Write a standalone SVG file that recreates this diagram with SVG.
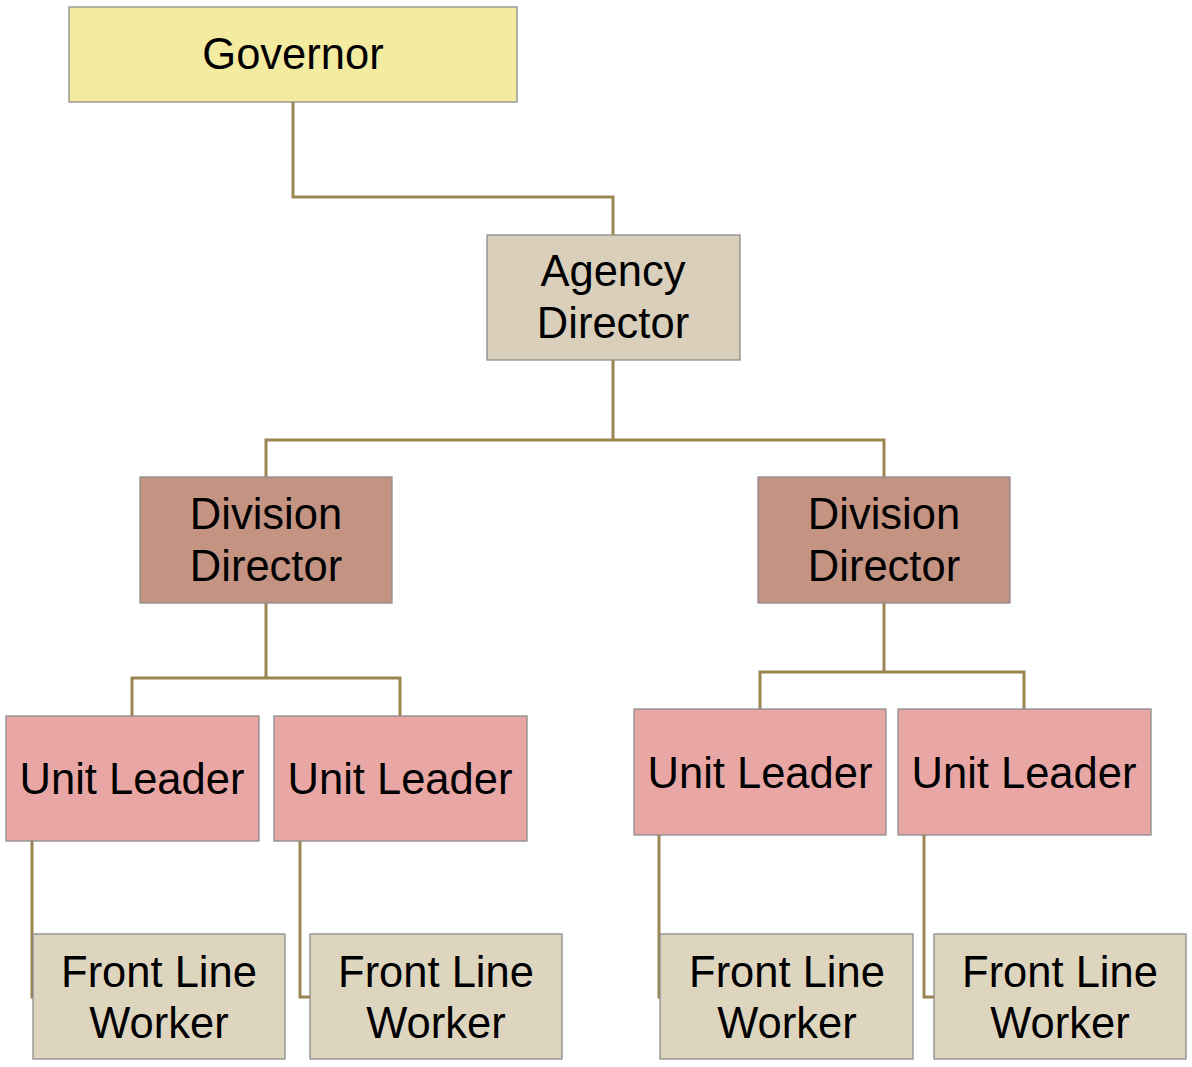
<svg xmlns="http://www.w3.org/2000/svg" width="1192" height="1067" viewBox="0 0 1192 1067">
<style>
  .box{stroke:#8c8c8c;stroke-width:1.3}
  .gov{fill:#f3eb9f}
  .agy{fill:#d9cfba}
  .div{fill:#c49382}
  .unit{fill:#e8a7a5}
  .wrk{fill:#ded5bf}
  text{font-family:"Liberation Sans",Arial,sans-serif;font-size:43.5px;fill:#000;text-anchor:middle}
  .conn path{fill:none;stroke:#9b8552;stroke-width:3}
</style>
<rect width="1192" height="1067" fill="#ffffff"/>
<g class="conn" id="connectors">
  <path d="M293 102 V197 H613 V235"/>
  <path d="M613 360 V440 H266 V477 M613 440 H884 V477"/>
  <path d="M266 603 V678 H132 V716 M266 678 H400 V716"/>
  <path d="M884 603 V672 H760 V709 M884 672 H1024 V709"/>
  <path d="M32 841 V997 H33"/>
  <path d="M300 841 V997 H310"/>
  <path d="M659 835 V997 H660"/>
  <path d="M924 835 V997 H934"/>
</g>
<g id="governor"><rect class="box gov" x="69" y="7" width="448" height="95"/><text x="293" y="69">Governor</text></g>
<g id="agency-director"><rect class="box agy" x="487" y="235" width="253" height="125"/><text x="613" y="286">Agency</text><text x="613" y="338">Director</text></g>
<g id="division-director-1"><rect class="box div" x="140" y="477" width="252" height="126"/><text x="266" y="529">Division</text><text x="266" y="581">Director</text></g>
<g id="division-director-2"><rect class="box div" x="758" y="477" width="252" height="126"/><text x="884" y="529">Division</text><text x="884" y="581">Director</text></g>
<g id="unit-leader-1"><rect class="box unit" x="6" y="716" width="253" height="125"/><text x="132" y="794">Unit Leader</text></g>
<g id="unit-leader-2"><rect class="box unit" x="274" y="716" width="253" height="125"/><text x="400" y="794">Unit Leader</text></g>
<g id="unit-leader-3"><rect class="box unit" x="634" y="709" width="252" height="126"/><text x="760" y="788">Unit Leader</text></g>
<g id="unit-leader-4"><rect class="box unit" x="898" y="709" width="253" height="126"/><text x="1024" y="788">Unit Leader</text></g>
<g id="front-line-worker-1"><rect class="box wrk" x="33" y="934" width="252" height="125"/><text x="159" y="987">Front Line</text><text x="159" y="1038">Worker</text></g>
<g id="front-line-worker-2"><rect class="box wrk" x="310" y="934" width="252" height="125"/><text x="436" y="987">Front Line</text><text x="436" y="1038">Worker</text></g>
<g id="front-line-worker-3"><rect class="box wrk" x="660" y="934" width="253" height="125"/><text x="787" y="987">Front Line</text><text x="787" y="1038">Worker</text></g>
<g id="front-line-worker-4"><rect class="box wrk" x="934" y="934" width="252" height="125"/><text x="1060" y="987">Front Line</text><text x="1060" y="1038">Worker</text></g>
</svg>
